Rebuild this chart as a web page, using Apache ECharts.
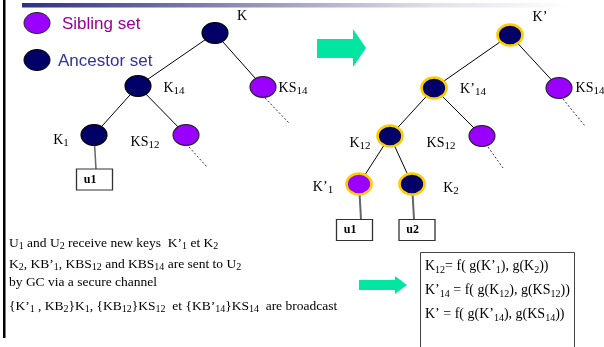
<!DOCTYPE html>
<html><head><meta charset="utf-8">
<script src="https://cdn.jsdelivr.net/npm/echarts@6/dist/echarts.min.js"></script>
<style>html,body{margin:0;padding:0;background:#fff}#c{width:604px;height:347px}</style>
</head><body><div id="c"></div>
<script>
// ---- data ----
const leftNodes  = ['K', 'K14', 'KS14', 'K1', 'KS12', 'u1', 'u1top'];
const leftX      = [215, 138, 263, 94, 186, 94.5, 96];
const leftY      = [33, 86, 87, 135, 135, 179.5, 169];
const leftKind   = ['anc', 'anc', 'sib', 'anc', 'sib', 'user', 'hidden'];
const leftLabels = ['K', 'K{s|14}', 'KS{s|14}', 'K{s|1}', 'KS{s|12}', 'u1', ''];
const leftLinks  = [['K', 'K14'], ['K', 'KS14'], ['K14', 'K1'], ['K14', 'KS12'], ['K1', 'u1top']];
const leftDots   = [[[265, 98], [289, 123]], [[189, 147], [207, 167]]];

const rightNodes  = ['K’', 'K’14', 'KS14r', 'K12', 'KS12r', 'K’1', 'K2', 'u1r', 'u2r', 'u1rtop', 'u2rtop'];
const rightX      = [510, 434, 559, 390, 482, 359, 412, 354.5, 417, 361, 414];
const rightY      = [35, 88, 88, 136, 136, 184, 184, 230, 230, 219, 219];
const rightKind   = ['ancNew', 'ancNew', 'sib', 'ancNew', 'sib', 'sibNew', 'ancNew', 'user', 'user', 'hidden', 'hidden'];
const rightLabels = ['K’', 'K’{s|14}', 'KS{s|14}', 'K{s|12}', 'KS{s|12}', 'K’{s|1}', 'K{s|2}', 'u1', 'u2', '', ''];
const rightLinks  = [['K’', 'K’14'], ['K’', 'KS14r'], ['K’14', 'K12'], ['K’14', 'KS12r'], ['K12', 'K’1'], ['K12', 'K2'], ['K’1', 'u1rtop'], ['K2', 'u2rtop']];
const rightDots   = [[[563, 99], [585, 126]], [[488, 147], [503, 168]]];

const legendItems = ['Sibling set', 'Ancestor set'];

const infoLines = [
  'U{s|1} and U{s|2} receive new keys  K’{s|1} et K{s|2}',
  'K{s|2}, KB’{s|1}, KBS{s|12} and KBS{s|14} are sent to U{s|2}',
  'by GC via a secure channel',
  '{K’{s|1} , KB{s|2}}K{s|1}, {KB{s|12}}KS{s|12}  et {KB’{s|14}}KS{s|14}  are broadcast'
];
const formulaLines = [
  'K{s|12}= f( g(K’{s|1}), g(K{s|2}))',
  'K’{s|14} = f( g(K{s|12}), g(KS{s|12}))',
  'K’ = f( g(K’{s|14}), g(KS{s|14}))'
];

// ---- styles ----
const NAVY = '#000066', PURPLE = '#9900ff', GOLD = '#ffcc00', MINT = '#00e5a0';
const ELLIPSE = 'path://M1,0A1,1,0,1,1,-1,0A1,1,0,1,1,1,0Z';
const labelOffset = {
  'K': [27, -17], 'K14': [36, 2], 'KS14': [30, 1], 'K1': [-33, 5], 'KS12': [-41, 7],
  'K’': [30, -18], 'K’14': [39, 1], 'KS14r': [31, 0], 'K12': [-30, 7], 'KS12r': [-41, 7],
  'K’1': [-36, 3], 'K2': [39, 4]
};
const SERIF = '"Liberation Serif","Times New Roman",serif';
const richTree = { s: { fontSize: 11, verticalAlign: 'bottom', fontFamily: SERIF, color: '#000' } };
const richText = { s: { fontSize: 10, verticalAlign: 'bottom', fontFamily: SERIF, fill: '#000', font: '10px ' + SERIF } };

function kindStyle(kind) {
  switch (kind) {
    case 'anc':    return { symbol: ELLIPSE, symbolSize: [26, 21], itemStyle: { color: NAVY, borderColor: '#000', borderWidth: 1 } };
    case 'sib':    return { symbol: ELLIPSE, symbolSize: [26, 21], itemStyle: { color: PURPLE, borderColor: '#222', borderWidth: 1 } };
    case 'ancNew': return { symbol: ELLIPSE, symbolSize: [25, 21], itemStyle: { color: NAVY, borderColor: GOLD, borderWidth: 2.5 } };
    case 'sibNew': return { symbol: ELLIPSE, symbolSize: [25, 21], itemStyle: { color: PURPLE, borderColor: GOLD, borderWidth: 2.5 } };
    case 'user':   return { symbol: 'rect', symbolSize: [36, 21], itemStyle: { color: '#fff', borderColor: '#333', borderWidth: 1 } };
    default:       return { symbol: 'none', symbolSize: 0, itemStyle: { opacity: 0 } };
  }
}

function buildNodes(names, xs, ys, kinds, labels) {
  return names.map((n, i) => {
    const st = kindStyle(kinds[i]);
    const node = Object.assign({ name: n, value: [xs[i], ys[i]] }, st);
    if (kinds[i] === 'user') {
      node.label = { show: true, position: 'insideLeft', offset: [3, 0], formatter: labels[i],
        fontFamily: SERIF, fontWeight: 'bold', fontSize: 12, color: '#000' };
    } else if (labels[i]) {
      node.label = { show: true, position: 'inside', offset: labelOffset[n] || [0, 0], formatter: labels[i],
        fontFamily: SERIF, fontSize: 14, lineHeight: 18, color: '#000', rich: richTree };
    } else {
      node.label = { show: false };
    }
    return node;
  });
}
function buildLinks(links, thinUser) {
  return links.map(([s, t]) => {
    const toUser = /top$/.test(t);
    return { source: s, target: t,
      lineStyle: toUser ? { color: '#666', width: thinUser ? 1.5 : 2, type: 'solid', opacity: 1, curveness: 0 }
                        : { color: '#000', width: 1, type: 'solid', opacity: 1, curveness: 0 } };
  });
}
function dotSeries(dots) {
  return dots.map(seg => ({
    type: 'line', data: seg, symbol: 'none', silent: true, z: 1,
    lineStyle: { color: '#333', width: 1, type: [2, 2] }
  }));
}

const chart = echarts.init(document.getElementById('c'), null, { renderer: 'canvas' });

const graphics = [
  { type: 'rect', shape: { x: 3, y: 0, width: 2.5, height: 338 }, style: { fill: '#000' } },
  { type: 'rect', shape: { x: 22, y: 3, width: 547, height: 4.5 },
    style: { fill: new echarts.graphic.LinearGradient(0, 0, 1, 0, [
      { offset: 0, color: '#2e2e88' }, { offset: 0.45, color: '#9a9abf' }, { offset: 0.75, color: '#e0e0ea' }, { offset: 1, color: '#ffffff' }]) } },
  { type: 'polygon', shape: { points: [[317, 39], [353, 39], [353, 29], [366, 48], [353, 67], [353, 58], [317, 58]] }, style: { fill: MINT } },
  { type: 'polygon', shape: { points: [[359, 280], [395, 280], [395, 276], [407, 285], [395, 294], [395, 290], [359, 290]] }, style: { fill: MINT } },
  { type: 'rect', shape: { x: 420.5, y: 252.5, width: 154, height: 110 }, style: { fill: 'none', stroke: '#444', lineWidth: 1 } },
  { type: 'ellipse', shape: { cx: 37, cy: 23, rx: 13, ry: 10.5 }, style: { fill: PURPLE, stroke: '#222', lineWidth: 1 } },
  { type: 'ellipse', shape: { cx: 37, cy: 60, rx: 13, ry: 10.5 }, style: { fill: NAVY, stroke: '#000', lineWidth: 1 } },
  { type: 'text', x: 62, y: 24, style: { text: legendItems[0], font: '17px "Liberation Sans", Arial, sans-serif', fill: '#990099', verticalAlign: 'middle' } },
  { type: 'text', x: 58, y: 61, style: { text: legendItems[1], font: '17px "Liberation Sans", Arial, sans-serif', fill: '#333399', verticalAlign: 'middle' } }
];
const infoY = [243, 264, 282, 306];
infoLines.forEach((t, i) => graphics.push({ type: 'text', x: 9, y: infoY[i],
  style: { text: t, font: '13.5px ' + SERIF, lineHeight: 17, fill: '#000', verticalAlign: 'middle', rich: richText } }));
const formY = [266, 290, 314];
formulaLines.forEach((t, i) => graphics.push({ type: 'text', x: 425, y: formY[i],
  style: { text: t, font: '14px ' + SERIF, lineHeight: 18, fill: '#000', verticalAlign: 'middle', rich: richText } }));

chart.setOption({
  animation: false,
  grid: { left: 0, right: 0, top: 0, bottom: 0 },
  xAxis: { type: 'value', min: 0, max: 604, show: false },
  yAxis: { type: 'value', min: 0, max: 347, inverse: true, show: false },
  graphic: graphics,
  series: [
    ...dotSeries(leftDots), ...dotSeries(rightDots),
    { type: 'graph', coordinateSystem: 'cartesian2d', layout: 'none', z: 3,
      data: buildNodes(leftNodes, leftX, leftY, leftKind, leftLabels),
      links: buildLinks(leftLinks, true), edgeSymbol: ['none', 'none'] },
    { type: 'graph', coordinateSystem: 'cartesian2d', layout: 'none', z: 3,
      data: buildNodes(rightNodes, rightX, rightY, rightKind, rightLabels),
      links: buildLinks(rightLinks, false), edgeSymbol: ['none', 'none'] }
  ]
});
</script></body></html>
